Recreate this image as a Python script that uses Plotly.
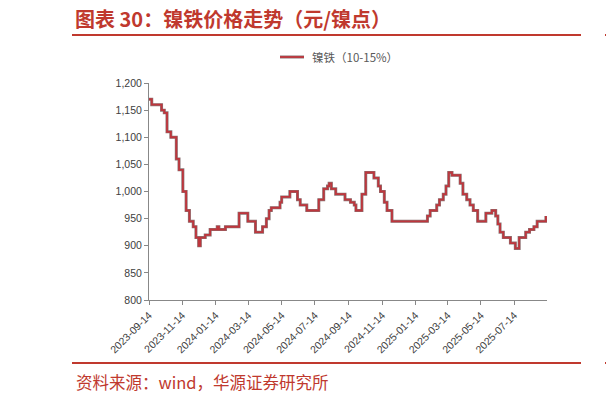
import plotly.graph_objects as go

# 镍铁价格（元/镍点），周度变动点
dates = [
    "2023-09-14", "2023-09-19", "2023-10-07", "2023-10-12", "2023-10-17", "2023-10-24",
    "2023-11-03", "2023-11-08", "2023-11-15", "2023-11-21", "2023-11-27", "2023-12-04",
    "2023-12-09", "2023-12-14", "2023-12-17", "2023-12-26", "2024-01-04", "2024-01-17",
    "2024-01-20", "2024-02-01", "2024-02-26", "2024-03-13", "2024-03-27", "2024-04-09",
    "2024-04-16", "2024-04-21", "2024-04-25", "2024-05-11", "2024-05-14", "2024-05-29",
    "2024-06-12", "2024-06-17", "2024-06-29", "2024-07-21", "2024-07-30", "2024-08-06",
    "2024-08-09", "2024-08-13", "2024-08-21", "2024-09-07", "2024-09-17", "2024-09-24",
    "2024-09-27", "2024-10-08", "2024-10-15", "2024-10-30", "2024-11-07", "2024-11-11",
    "2024-11-18", "2024-11-23", "2024-12-02", "2025-02-05", "2025-02-10", "2025-02-22",
    "2025-02-27", "2025-03-06", "2025-03-11", "2025-03-16", "2025-03-22", "2025-04-06",
    "2025-04-11", "2025-04-18", "2025-04-24", "2025-04-30", "2025-05-08", "2025-05-23",
    "2025-06-03", "2025-06-10", "2025-06-14", "2025-06-18", "2025-06-24", "2025-07-07",
    "2025-07-16", "2025-07-23", "2025-08-04", "2025-08-11", "2025-08-19", "2025-08-25",
    "2025-09-10",
]
prices = [
    1170, 1160, 1150, 1145, 1110, 1100,
    1060, 1040, 1000, 965, 945, 935,
    915, 900, 915, 920, 930, 935,
    930, 935, 960, 945, 925, 935,
    950, 965, 970, 980, 990, 1000,
    985, 975, 965, 985, 1005, 1010,
    1015, 1005, 995, 985, 980, 975,
    965, 995, 1035, 1025, 1010, 1000,
    980, 965, 945, 955, 965, 975,
    985, 995, 1010, 1035, 1030, 1015,
    995, 985, 975, 965, 945, 960,
    965, 955, 940, 925, 915, 905,
    895, 915, 925, 930, 935, 945,
    955,
]

tick_vals = ["2023-09-14", "2023-11-14", "2024-01-14", "2024-03-14", "2024-05-14", "2024-07-14",
             "2024-09-14", "2024-11-14", "2025-01-14", "2025-03-14", "2025-05-14", "2025-07-14"]
y_ticks = [800, 850, 900, 950, 1000, 1050, 1100, 1150, 1200]

title_text = "图表 30：镍铁价格走势（元/镍点）"
legend_text = "镍铁（10-15%）"
source_text = "资料来源：wind，华源证券研究所"

RED = "#C0392E"
LINE = "#BE363D"
EDGE = "#8a7475"

# page body adds an 8px offset, so everything is measured from there
OFF = 8
W, H = 614 - OFF, 402 - OFF
L, R, T, B = 149 - OFF, 547 - OFF, 83 - OFF, 300 - OFF


def px(x):
    return (x - OFF - L) / (R - L)


def py(y):
    return (B - (y - OFF)) / (B - T)


fig = go.Figure()
fig.add_trace(go.Scatter(x=dates, y=prices, mode="lines", line_shape="hv",
                         line=dict(color=EDGE, width=3), hoverinfo="skip",
                         showlegend=False))
fig.add_trace(go.Scatter(x=dates, y=prices, mode="lines", line_shape="hv",
                         line=dict(color=LINE, width=1.8), name=legend_text, showlegend=False))

shapes = [
    # title rule and footer rule
    dict(type="line", xref="paper", yref="paper", x0=px(72), x1=px(581), y0=py(35), y1=py(35),
         line=dict(color=RED, width=2)),
    dict(type="line", xref="paper", yref="paper", x0=px(605), x1=px(620), y0=py(35), y1=py(35),
         line=dict(color=RED, width=2)),
    dict(type="line", xref="paper", yref="paper", x0=px(72), x1=px(581), y0=py(363), y1=py(363),
         line=dict(color=RED, width=2)),
    dict(type="line", xref="paper", yref="paper", x0=px(605), x1=px(620), y0=py(363), y1=py(363),
         line=dict(color=RED, width=2)),
    # legend sample
    dict(type="line", xref="paper", yref="paper", x0=px(280), x1=px(304), y0=py(57), y1=py(57),
         line=dict(color=EDGE, width=3)),
    dict(type="line", xref="paper", yref="paper", x0=px(280), x1=px(304), y0=py(57), y1=py(57),
         line=dict(color=LINE, width=1.8)),
]

annotations = [
    dict(text="<b>" + title_text + "</b>", xref="paper", yref="paper", x=px(73), y=py(19),
         xanchor="left", yanchor="middle", showarrow=False,
         font=dict(family="Noto Sans CJK SC", size=20, color=RED)),
    dict(text="<b>图</b>", xref="paper", yref="paper", x=px(607), y=py(19),
         xanchor="left", yanchor="middle", showarrow=False,
         font=dict(family="Noto Sans CJK SC", size=20, color=RED)),
    dict(text=legend_text, xref="paper", yref="paper", x=px(310), y=py(57),
         xanchor="left", yanchor="middle", showarrow=False,
         font=dict(family="Noto Sans CJK SC", size=11.5, color="#595959")),
    dict(text=source_text, xref="paper", yref="paper", x=px(74), y=py(382),
         xanchor="left", yanchor="middle", showarrow=False,
         font=dict(family="Noto Sans CJK SC", size=16.5, color=RED)),
    dict(text="资", xref="paper", yref="paper", x=px(608), y=py(382),
         xanchor="left", yanchor="middle", showarrow=False,
         font=dict(family="Noto Sans CJK SC", size=16.5, color=RED)),
]

fig.update_layout(
    width=W, height=H,
    margin=dict(l=L, r=W - R, t=T, b=H - B, pad=0),
    paper_bgcolor="white", plot_bgcolor="white",
    showlegend=False,
    shapes=shapes, annotations=annotations,
    font=dict(family="Arial, Liberation Sans", size=10.5, color="#404040"),
)
fig.update_xaxes(type="date", range=["2023-09-14", "2025-09-12"],
                 tickvals=tick_vals, tickformat="%Y-%m-%d", tickangle=-45,
                 showgrid=False, zeroline=False, showline=True, linecolor="#888888", linewidth=1,
                 ticks="outside", ticklen=4, tickcolor="#888888",
                 tickfont=dict(size=10.5, color="#404040"))
fig.update_yaxes(range=[800, 1200], tickvals=y_ticks, tickformat=",d",
                 showgrid=False, zeroline=False, showline=True, linecolor="#888888", linewidth=1,
                 ticks="outside", ticklen=4, tickcolor="#888888",
                 tickfont=dict(size=10.5, color="#404040"))

fig.write_html("out.html")
